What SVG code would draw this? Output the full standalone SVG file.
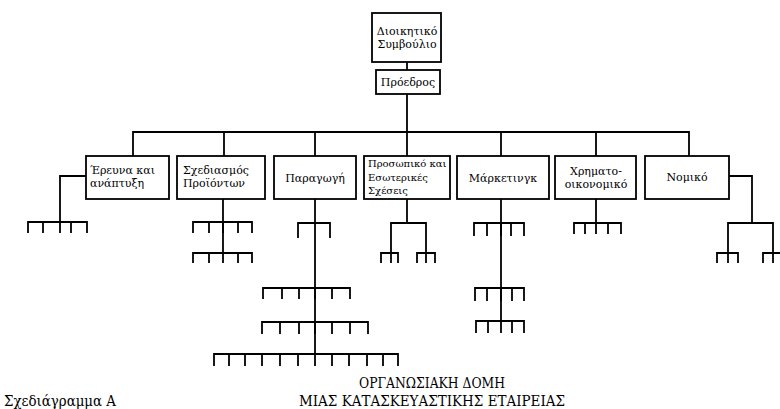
<svg xmlns="http://www.w3.org/2000/svg" width="780" height="409" viewBox="0 0 780 409">
  <style>
    .box { fill: #fff; stroke: #000; stroke-width: 1.8; }
    .ln { fill: none; stroke: #000; stroke-width: 1.8; stroke-linecap: square; stroke-linejoin: miter; }
    text { font-family: 'DejaVu Serif', 'Liberation Serif', serif; fill: #000; }
    .t { font-size: 11px; }
    .s { font-size: 10px; }
    .c { text-anchor: middle; }
    .cap { font-size: 15px; }
  </style>
  <rect width="780" height="409" fill="#fff"/>

  <!-- connectors -->
  <g id="connectors" class="ln">
    <!-- board to president, main trunk -->
    <path d="M407 62 V70 M407 94 V156"/>
    <!-- department bus -->
    <path d="M133 156 V132 H689 V156"/>
    <path d="M224 132 V156 M315 132 V156 M501 132 V156 M596 132 V156"/>

    <!-- research & development -->
    <path d="M86 176 H60 V222"/>
    <path d="M28 232 V222 H87 V232 M43 222 V232 M60 222 V232 M71 222 V232"/>

    <!-- product design -->
    <path d="M223 199 V253"/>
    <path d="M193 232 V222 H252 V232 M209 222 V232 M223 222 V232 M238 222 V232"/>
    <path d="M193 262 V253 H252 V262 M209 253 V262 M223 253 V262 M238 253 V262"/>

    <!-- production -->
    <path d="M315 199 V354"/>
    <path d="M298 237 V223 H330 V237"/>
    <path d="M263 298 V288 H350 V298 M282 288 V298 M299 288 V298 M315 288 V298 M332 288 V298"/>
    <path d="M262 333 V322 H368 V333 M280 322 V333 M299 322 V333 M315 322 V333 M332 322 V333 M350 322 V333"/>
    <path d="M214 365 V354 H398 V365 M229 354 V365 M245 354 V365 M262 354 V365 M280 354 V365 M298 354 V365 M315 354 V365 M332 354 V365 M349 354 V365 M367 354 V365 M383 354 V365"/>

    <!-- personnel -->
    <path d="M407 199 V223"/>
    <path d="M391 253 V223 H426 V253"/>
    <path d="M381 262 V253 H398 V262 M391 253 V262"/>
    <path d="M417 262 V253 H435 V262 M426 253 V262"/>

    <!-- marketing -->
    <path d="M501 199 V321"/>
    <path d="M474 235 V223 H524 V235 M487 223 V235 M501 223 V235 M511 223 V235"/>
    <path d="M475 300 V288 H524 V300 M487 288 V300 M501 288 V300 M512 288 V300"/>
    <path d="M476 332 V321 H524 V332 M488 321 V332 M501 321 V332 M512 321 V332"/>

    <!-- finance -->
    <path d="M596 199 V223"/>
    <path d="M574 233 V223 H621 V233 M585 223 V233 M596 223 V233 M608 223 V233"/>

    <!-- legal -->
    <path d="M729 176 H752 V223"/>
    <path d="M728 253 V223 H773 V253"/>
    <path d="M717 262 V253 H738 V262 M728 253 V262"/>
    <path d="M763 262 V253 H783 M773 253 V262"/>
  </g>

  <!-- board of directors -->
  <g id="board">
    <rect class="box" x="372" y="13" width="69" height="49"/>
    <text class="t c" x="407" y="35">Διοικητικό</text>
    <text class="t c" x="407" y="48">Συμβούλιο</text>
  </g>

  <!-- president -->
  <g id="president">
    <rect class="box" x="376" y="70" width="64" height="24"/>
    <text class="t c" x="408" y="86">Πρόεδρος</text>
  </g>

  <g id="research">
    <rect class="box" x="86" y="156" width="83" height="43"/>
    <text class="t" x="90" y="174">Έρευνα και</text>
    <text class="t" x="90" y="187">ανάπτυξη</text>
  </g>

  <g id="design">
    <rect class="box" x="177" y="156" width="88" height="43"/>
    <text class="t" x="183" y="174">Σχεδιασμός</text>
    <text class="t" x="183" y="187">Προϊόντων</text>
  </g>

  <g id="production">
    <rect class="box" x="274" y="156" width="82" height="43"/>
    <text class="t c" x="315" y="182">Παραγωγή</text>
  </g>

  <g id="personnel">
    <rect class="box" x="364" y="156" width="86" height="43"/>
    <text class="s" x="368" y="167">Προσωπικό και</text>
    <text class="s" x="368" y="181">Εσωτερικές</text>
    <text class="s" x="368" y="194">Σχέσεις</text>
  </g>

  <g id="marketing">
    <rect class="box" x="457" y="156" width="92" height="43"/>
    <text class="t c" x="503" y="182">Μάρκετινγκ</text>
  </g>

  <g id="finance">
    <rect class="box" x="555" y="156" width="81" height="43"/>
    <text class="t c" x="596" y="175">Χρηματο-</text>
    <text class="t c" x="596" y="188">οικονομικό</text>
  </g>

  <g id="legal">
    <rect class="box" x="645" y="156" width="84" height="43"/>
    <text class="t c" x="687" y="181">Νομικό</text>
  </g>

  <!-- captions -->
  <text class="cap" x="4" y="406" textLength="112" lengthAdjust="spacingAndGlyphs">Σχεδιάγραμμα Α</text>
  <text class="cap c" x="432" y="388" textLength="146" lengthAdjust="spacingAndGlyphs">ΟΡΓΑΝΩΣΙΑΚΗ ΔΟΜΗ</text>
  <text class="cap c" x="432" y="406" textLength="266" lengthAdjust="spacingAndGlyphs">ΜΙΑΣ ΚΑΤΑΣΚΕΥΑΣΤΙΚΗΣ ΕΤΑΙΡΕΙΑΣ</text>
</svg>
